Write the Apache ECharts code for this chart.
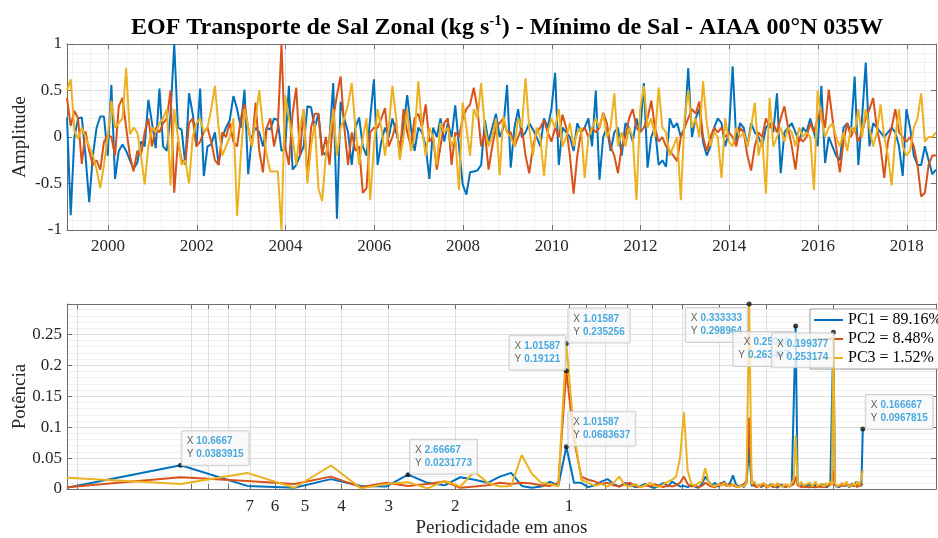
<!DOCTYPE html>
<html>
<head>
<meta charset="utf-8">
<script src="https://cdn.jsdelivr.net/npm/echarts@6/dist/echarts.min.js"></script>
<style>
html,body{margin:0;padding:0;background:#ffffff;}
#chart{width:938px;height:538px;}
</style>
</head>
<body>
<div id="chart"></div>
<script>
// ================= DATA =================
const seriesNames = ['PC1 = 89.16%', 'PC2 = 8.48%', 'PC3 = 1.52%'];
const titleMain = 'EOF Transporte de Sal Zonal (kg s';
const titleSup = '-1';
const titleRest = ') - Mínimo de Sal - AIAA 00°N 035W';
const startYear = 1999.075;
const monthsPerYear = 12;
const yearTicks = [2000, 2002, 2004, 2006, 2008, 2010, 2012, 2014, 2016, 2018];

const pc1 = [
0.21,-0.84,0.0,0.2,0.21,-0.2,-0.7,-0.2,0.1,0.22,0.22,-0.2,
0.56,-0.45,-0.15,-0.08,-0.15,-0.25,-0.34,-0.28,-0.05,-0.1,0.4,0.15,
-0.12,0.52,-0.1,-0.15,0.25,1.0,0.1,0.08,-0.3,0.47,0.25,-0.1,
0.52,-0.42,-0.1,-0.08,0.05,-0.3,0.0,0.1,0.18,0.44,0.3,0.1,
0.51,-0.4,0.0,0.1,0.05,-0.1,0.1,0.08,0.2,0.18,-0.15,-0.12,
0.55,-0.35,-0.3,-0.2,-0.1,0.33,0.32,0.1,0.25,-0.15,-0.2,0.0,
0.58,-0.88,0.38,0.2,0.05,-0.3,0.1,0.21,-0.1,-0.2,0.2,0.62,
-0.3,-0.05,0.1,0.0,0.2,0.05,-0.1,0.1,0.45,0.1,-0.15,0.1,
0.05,-0.1,-0.45,0.1,0.0,0.2,-0.05,0.15,0.0,0.34,-0.1,-0.51,
-0.62,-0.38,-0.37,-0.36,-0.3,0.18,-0.05,0.1,0.25,0.0,0.1,0.56,
-0.33,0.1,0.3,0.0,0.05,0.15,0.08,0.0,-0.1,0.2,0.1,0.3,
0.69,-0.3,0.1,0.05,0.0,-0.15,0.15,0.05,0.1,0.2,-0.1,0.5,
-0.46,0.0,0.1,-0.15,0.05,0.1,-0.2,0.15,0.1,-0.05,0.2,0.05,
0.58,-0.33,0.0,0.1,-0.3,-0.25,-0.32,0.2,0.1,0.15,0.0,0.1,
0.74,0.0,0.2,0.3,-0.05,-0.2,-0.1,0.1,0.2,0.15,-0.1,0.05,
0.76,-0.05,0.15,0.1,-0.1,0.15,0.05,0.0,-0.1,0.1,0.15,0.05,
0.47,-0.39,0.05,0.1,0.15,0.05,-0.05,0.1,0.05,0.2,0.05,-0.1,
0.55,-0.28,0.0,-0.1,-0.2,-0.25,0.1,0.15,0.05,0.65,-0.3,0.2,
0.8,-0.1,0.15,0.1,0.05,0.0,0.05,0.1,0.05,-0.1,-0.42,0.3,
0.1,-0.2,-0.3,-0.3,-0.1,-0.25,-0.4,-0.35
];
const pc2 = [
0.42,0.12,0.28,0.2,-0.29,0.06,-0.15,-0.3,-0.25,-0.35,-0.05,0.02,
0.0,-0.2,0.33,0.42,0.1,-0.2,-0.37,-0.15,-0.2,0.05,0.2,-0.1,
0.1,0.05,0.15,0.2,0.5,-0.6,-0.05,-0.25,-0.28,0.15,0.2,-0.1,
-0.05,0.05,0.1,-0.05,-0.25,-0.3,0.05,0.0,0.15,-0.05,-0.1,0.2,
0.35,0.1,-0.1,0.37,-0.15,-0.38,0.1,0.2,-0.1,0.1,1.0,-0.1,
-0.3,0.25,0.53,-0.2,0.3,-0.44,0.1,0.25,0.25,-0.2,0.0,-0.3,
0.2,0.45,0.65,0.1,-0.3,0.05,-0.15,-0.1,-0.6,-0.55,0.05,0.1,
0.1,0.2,0.31,-0.1,0.0,0.15,-0.2,0.3,0.05,-0.1,0.2,0.25,
0.1,0.35,-0.05,0.0,-0.35,-0.1,0.15,0.2,-0.3,0.05,0.0,0.2,
0.3,0.35,0.53,0.3,-0.1,0.05,-0.35,-0.1,0.1,0.15,0.2,0.05,
0.05,-0.1,0.0,0.1,-0.2,-0.39,-0.1,0.05,0.1,0.18,0.05,-0.05,
0.1,0.0,0.24,0.1,-0.2,-0.61,-0.2,0.05,0.1,0.0,0.1,0.05,
0.1,0.26,0.15,-0.1,-0.2,-0.39,-0.1,0.0,0.2,0.3,0.1,0.05,
0.1,0.2,0.39,0.1,-0.05,0.0,-0.1,-0.15,-0.2,-0.26,0.0,0.1,
0.2,0.3,0.25,0.38,0.0,-0.15,0.0,0.1,0.05,0.1,0.0,0.05,
0.0,-0.1,0.1,0.05,-0.2,-0.36,-0.1,0.05,0.0,0.2,0.1,0.15,
0.05,0.2,0.33,0.1,-0.1,-0.35,0.0,-0.05,0.0,0.15,0.05,0.2,
0.3,0.1,0.51,0.2,-0.1,-0.38,-0.05,0.15,0.0,0.1,-0.05,0.05,
0.2,0.3,0.42,0.1,-0.1,-0.44,-0.05,0.1,0.3,0.05,0.0,-0.05,
0.0,-0.1,-0.3,-0.64,-0.6,-0.3,-0.2,-0.2
];
const pc3 = [
0.5,0.62,0.07,-0.02,0.1,0.0,-0.1,-0.2,-0.35,-0.55,-0.3,0.0,
0.39,0.1,0.15,0.2,0.74,0.03,0.1,0.05,-0.2,-0.51,-0.1,0.1,
0.05,0.15,0.2,0.3,-0.52,0.3,0.0,-0.3,-0.25,-0.5,0.0,0.15,
0.2,0.05,0.1,0.3,0.55,0.1,-0.2,-0.1,0.0,0.2,-0.85,-0.2,
0.3,0.1,-0.1,0.2,0.5,0.1,-0.2,-0.37,-0.37,-0.37,-1.0,0.45,
0.2,0.0,-0.3,0.1,0.3,-0.5,-0.1,0.15,-0.55,-0.69,-0.2,0.0,
0.3,-0.2,0.1,0.2,0.35,0.58,0.1,-0.3,0.0,0.2,-0.68,-0.1,
0.3,0.1,-0.2,0.1,0.55,0.2,-0.25,0.0,0.3,-0.15,0.0,0.6,
0.1,-0.2,0.1,0.0,-0.3,0.15,0.05,0.1,-0.1,0.0,-0.57,0.37,
0.1,-0.2,0.3,0.2,0.58,0.1,-0.1,0.0,0.2,-0.41,0.22,0.05,
0.0,-0.1,0.2,0.1,0.63,0.1,-0.2,0.1,0.0,-0.42,0.05,0.2,
0.1,0.3,-0.1,0.0,0.15,-0.1,0.05,0.1,-0.44,0.0,0.1,0.2,
0.1,0.25,0.0,0.1,0.47,-0.1,0.05,-0.1,0.1,0.0,-0.68,0.3,
0.55,0.1,0.2,0.0,0.53,0.1,0.05,-0.2,-0.1,0.0,-0.68,0.2,
0.5,0.1,0.2,0.0,0.6,0.15,-0.1,0.05,0.0,-0.44,0.2,-0.05,
-0.1,0.1,0.0,0.05,-0.1,0.1,0.37,-0.2,0.0,-0.61,0.42,-0.1,
0.0,0.1,-0.05,0.1,0.05,-0.1,0.1,0.0,0.05,0.0,-0.57,0.5,
0.2,0.0,0.1,0.15,0.0,-0.1,0.05,-0.15,0.1,0.05,0.3,0.0,
0.3,0.1,-0.1,0.05,0.35,0.0,-0.2,-0.52,0.0,0.3,-0.1,-0.2,
-0.15,0.1,0.2,0.47,-0.05,0.0,0.0,0.05
];

// spectrum: power at FFT bins k = 1..128 (nfft = 256, monthly sampling)
const nfft = 256;
const spec1 = [
0.002,0.0383915,0.005,0.002,0.016,0.005,0.004,0.0231773,0.010,0.006,
0.019,0.015,0.010,0.020,0.026,0.005,0.002,0.004,0.012,0.005,
0.0683637,0.010,0.010,0.003,0.006,0.012,0.016,0.008,0.004,0.010,
0.006,0.003,0.005,0.008,0.004,0.002,0.006,0.010,0.004,0.012,
0.008,0.004,0.005,0.003,0.006,0.004,0.002,0.008,0.020,0.012,
0.006,0.010,0.004,0.008,0.012,0.006,0.010,0.022,0.008,0.004,
0.006,0.003,0.010,0.068,0.005,0.008,0.004,0.006,0.003,0.007,
0.005,0.004,0.008,0.003,0.006,0.002,0.005,0.007,0.004,0.003,
0.006,0.004,0.008,0.010,0.263497,0.012,0.006,0.004,0.007,0.003,
0.005,0.008,0.004,0.006,0.003,0.007,0.005,0.004,0.006,0.008,
0.004,0.006,0.003,0.005,0.008,0.010,0.253174,0.008,0.004,0.006,
0.003,0.007,0.010,0.005,0.004,0.006,0.008,0.003,0.005,0.009,
0.006,0.004,0.012,0.005,0.010,0.004,0.012,0.0967815
];
const spec2 = [
0.003,0.019,0.013,0.008,0.020,0.003,0.010,0.005,0.008,0.012,
0.002,0.004,0.006,0.010,0.008,0.010,0.009,0.006,0.005,0.010,
0.19121,0.080,0.020,0.015,0.012,0.008,0.010,0.006,0.004,0.008,
0.010,0.005,0.003,0.006,0.004,0.008,0.005,0.003,0.006,0.004,
0.006,0.010,0.020,0.008,0.004,0.006,0.003,0.005,0.010,0.006,
0.004,0.003,0.006,0.010,0.007,0.005,0.008,0.006,0.004,0.003,
0.006,0.008,0.012,0.115,0.008,0.005,0.003,0.006,0.004,0.007,
0.003,0.005,0.006,0.004,0.003,0.005,0.008,0.004,0.006,0.003,
0.005,0.004,0.006,0.008,0.020,0.006,0.004,0.003,0.005,0.004,
0.006,0.003,0.005,0.004,0.007,0.003,0.006,0.004,0.005,0.003,
0.006,0.004,0.005,0.007,0.004,0.008,0.030,0.006,0.004,0.005,
0.003,0.006,0.004,0.005,0.003,0.007,0.004,0.006,0.003,0.005,
0.004,0.006,0.005,0.003,0.007,0.004,0.006,0.008
];
const spec3 = [
0.018,0.008,0.026,0.002,0.038,0.001,0.008,0.011,0.001,0.013,
0.004,0.028,0.010,0.004,0.005,0.055,0.025,0.010,0.008,0.004,
0.235256,0.090,0.015,0.010,0.005,0.008,0.004,0.010,0.020,0.006,
0.004,0.008,0.003,0.006,0.010,0.005,0.003,0.008,0.012,0.015,
0.020,0.050,0.124,0.030,0.008,0.005,0.010,0.012,0.034,0.010,
0.006,0.004,0.008,0.005,0.010,0.006,0.004,0.008,0.005,0.003,
0.006,0.004,0.010,0.298964,0.008,0.012,0.006,0.004,0.008,0.010,
0.005,0.003,0.006,0.008,0.004,0.010,0.006,0.004,0.005,0.008,
0.006,0.004,0.010,0.015,0.087,0.010,0.005,0.012,0.006,0.004,
0.008,0.005,0.010,0.004,0.006,0.012,0.005,0.003,0.008,0.006,
0.004,0.010,0.006,0.008,0.012,0.006,0.245,0.010,0.005,0.008,
0.006,0.004,0.010,0.006,0.008,0.012,0.005,0.008,0.004,0.006,
0.010,0.005,0.008,0.012,0.006,0.010,0.018,0.030
];

const periodLabels = [7, 6, 5, 4, 3, 2, 1];
const periodTicks = [20, 10, 9, 8, 7, 6, 5, 4, 3, 2, 1, 0.9, 0.8, 0.7, 0.6, 0.5, 0.4, 0.3, 0.2];
const powerTicksMax = 0.299;

// data tips (which PC, period shown, power shown)
const tipSeries = [0, 0, 1, 2, 0, 2, 0, 0, 0];
const tipPeriods = ['10.6667', '2.66667', '1.01587', '1.01587', '1.01587', '0.333333', '0.25098', '0.199377', '0.166667'];
const tipPowers = ['0.0383915', '0.0231773', '0.19121', '0.235256', '0.0683637', '0.298964', '0.263497', '0.253174', '0.0967815'];

// ================= STYLE / LAYOUT =================
const colors = ['#0072BD', '#D95319', '#EDB120'];
const tipLayout = [
  {dx: 1, dy: -34, align: 'left'},
  {dx: 2, dy: -35, align: 'left'},
  {dx: -1, dy: -35, align: 'right'},
  {dx: 2, dy: -35, align: 'left'},
  {dx: 2, dy: -35, align: 'left'},
  {dx: -2, dy: 4, align: 'right'},
  {dx: -1, dy: 6, align: 'right'},
  {dx: 0, dy: 1, align: 'right'},
  {dx: 3, dy: -34, align: 'left'}
];
const serif = 'Liberation Serif, Times New Roman, serif';
const axisColor = '#6e6e6e';
const gridMajor = '#dedede';
const gridMinor = '#f0f0f0';
const tickFont = 17;

const toLogFreq = p => -Math.log10(p);
const timeMin = startYear;
const timeMax = startYear + (pc1.length - 1) / monthsPerYear;
const freqMin = Math.log10(monthsPerYear / nfft);
const freqMax = 0.972;

const topData = [pc1, pc2, pc3].map(arr => arr.map((v, i) => [startYear + i / monthsPerYear, v]));
const specData = [spec1, spec2, spec3].map(arr => arr.map((v, i) => [Math.log10((i + 1) * monthsPerYear / nfft), v]));

const yearTickVals = yearTicks;
const periodLabelVals = periodLabels.map(toLogFreq);
const periodTickVals = periodTicks.map(toLogFreq);

function baseAxisLine() { return {show: true, onZero: false, lineStyle: {color: axisColor, width: 1}}; }

const xAxes = [
  {
    type: 'value', gridIndex: 0, position: 'bottom', min: timeMin, max: timeMax, splitNumber: 10,
    axisLine: baseAxisLine(),
    axisTick: {show: true, inside: true, length: 5, customValues: yearTickVals, lineStyle: {color: axisColor}},
    axisLabel: {show: true, customValues: yearTickVals, margin: 8, fontFamily: serif, fontSize: tickFont, color: '#262626', formatter: v => String(Math.round(v))},
    splitLine: {show: true, lineStyle: {color: gridMajor, width: 1}},
    minorTick: {show: false, splitNumber: 5},
    minorSplitLine: {show: true, lineStyle: {color: gridMinor, width: 1}}
  },
  {
    type: 'value', gridIndex: 1, position: 'bottom', min: freqMin, max: freqMax,
    name: 'Periodicidade em anos', nameLocation: 'middle', nameGap: 30, nameMoveOverlap: false,
    nameTextStyle: {fontFamily: serif, fontSize: 19, color: '#262626'},
    axisLine: baseAxisLine(),
    axisTick: {show: true, inside: true, length: 5, customValues: periodTickVals, lineStyle: {color: axisColor}},
    axisLabel: {show: true, customValues: periodLabelVals, margin: 9, fontFamily: serif, fontSize: tickFont, color: '#262626', formatter: v => String(Math.round(Math.pow(10, -v)))},
    splitLine: {show: true, lineStyle: {color: gridMajor, width: 1}}
  },
  {
    type: 'value', gridIndex: 0, position: 'top', min: timeMin, max: timeMax,
    axisLine: baseAxisLine(),
    axisTick: {show: true, inside: true, length: 5, customValues: yearTickVals, lineStyle: {color: axisColor}},
    axisLabel: {show: false}, splitLine: {show: false}
  },
  {
    type: 'value', gridIndex: 1, position: 'top', min: freqMin, max: freqMax,
    axisLine: baseAxisLine(),
    axisTick: {show: true, inside: true, length: 5, customValues: periodTickVals, lineStyle: {color: axisColor}},
    axisLabel: {show: false}, splitLine: {show: false}
  }
];

const yAxes = [
  {
    type: 'value', gridIndex: 0, position: 'left', min: -1, max: 1, interval: 0.5,
    name: 'Amplitude', nameLocation: 'middle', nameGap: 37, nameRotate: 90, nameMoveOverlap: false,
    nameTextStyle: {fontFamily: serif, fontSize: 19, color: '#262626'},
    axisLine: baseAxisLine(),
    axisTick: {show: true, inside: true, length: 5, lineStyle: {color: axisColor}},
    axisLabel: {margin: 5, fontFamily: serif, fontSize: tickFont, color: '#262626'},
    splitLine: {show: true, lineStyle: {color: gridMajor, width: 1}},
    minorTick: {show: false, splitNumber: 5},
    minorSplitLine: {show: true, lineStyle: {color: gridMinor, width: 1}}
  },
  {
    type: 'value', gridIndex: 1, position: 'left', min: 0, max: powerTicksMax, interval: 0.05,
    name: 'Potência', nameLocation: 'middle', nameGap: 37, nameRotate: 90, nameMoveOverlap: false,
    nameTextStyle: {fontFamily: serif, fontSize: 19, color: '#262626'},
    axisLine: baseAxisLine(),
    axisTick: {show: true, inside: true, length: 5, lineStyle: {color: axisColor}},
    axisLabel: {margin: 5, fontFamily: serif, fontSize: tickFont, color: '#262626', showMaxLabel: false},
    splitLine: {show: true, lineStyle: {color: gridMajor, width: 1}},
    minorTick: {show: false, splitNumber: 5},
    minorSplitLine: {show: true, lineStyle: {color: gridMinor, width: 1}}
  },
  {
    type: 'value', gridIndex: 0, position: 'right', min: -1, max: 1, interval: 0.5,
    axisLine: baseAxisLine(),
    axisTick: {show: true, inside: true, length: 5, lineStyle: {color: axisColor}},
    axisLabel: {show: false}, splitLine: {show: false}
  },
  {
    type: 'value', gridIndex: 1, position: 'right', min: 0, max: powerTicksMax, interval: 0.05,
    axisLine: baseAxisLine(),
    axisTick: {show: true, inside: true, length: 5, lineStyle: {color: axisColor}},
    axisLabel: {show: false}, splitLine: {show: false}
  }
];

const series = [];
for (let s = 0; s < 3; s++) {
  series.push({
    name: seriesNames[s], type: 'line', xAxisIndex: 0, yAxisIndex: 0,
    data: topData[s], showSymbol: false, symbol: 'none',
    lineStyle: {color: colors[s], width: 2}, itemStyle: {color: colors[s]},
    emphasis: {disabled: true}, z: 2 + s
  });
}
for (let s = 0; s < 3; s++) {
  series.push({
    name: seriesNames[s], type: 'line', xAxisIndex: 1, yAxisIndex: 1,
    data: specData[s], showSymbol: false, symbol: 'none',
    lineStyle: {color: colors[s], width: 2}, itemStyle: {color: colors[s]},
    emphasis: {disabled: true}, z: 2 + s
  });
}

const tipData = tipPeriods.map((p, i) => {
  const L = tipLayout[i];
  return {
    value: [toLogFreq(parseFloat(p)), parseFloat(tipPowers[i])],
    label: {
      show: true,
      position: [2.5 + L.dx, 2.5 + L.dy],
      align: L.align,
      formatter: '{a|X} {b|' + p + '}\n{a|Y} {b|' + tipPowers[i] + '}'
    }
  };
});
series.push({
  type: 'scatter', xAxisIndex: 1, yAxisIndex: 1, z: 10,
  symbol: 'circle', symbolSize: 5,
  itemStyle: {color: '#111111'},
  emphasis: {disabled: true},
  data: tipData,
  label: {
    show: true,
    backgroundColor: 'rgba(248,248,248,0.96)',
    borderColor: '#c4c4c4', borderWidth: 1, borderRadius: 1,
    padding: [4, 5, 4, 5],
    rich: {
      a: {fontFamily: 'Liberation Sans, Arial, sans-serif', fontSize: 10, color: '#3a3a3a', lineHeight: 13},
      b: {fontFamily: 'Liberation Sans, Arial, sans-serif', fontSize: 10, fontWeight: 'bold', color: '#1d95d8', lineHeight: 13}
    }
  }
});

const option = {
  animation: false,
  backgroundColor: '#ffffff',
  textStyle: {fontFamily: serif},
  title: {
    text: '{t|' + titleMain + '}{s|' + titleSup + '}{t|' + titleRest + '}',
    left: 131, top: 14, padding: 0,
    textStyle: {
      rich: {
        t: {fontFamily: serif, fontWeight: 'bold', fontSize: 24, color: '#000000', lineHeight: 26},
        s: {fontFamily: serif, fontWeight: 'bold', fontSize: 15, color: '#000000', padding: [0, 0, 12, 0]}
      }
    }
  },
  legend: {
    data: seriesNames.map(n => ({name: n, icon: 'rect'})),
    orient: 'vertical', left: 810, top: 309,
    backgroundColor: '#ffffff', borderColor: '#9a9a9a', borderWidth: 1, borderRadius: 0,
    padding: [3, 4, 3, 4], itemGap: 3, itemWidth: 29, itemHeight: 2,
    selectedMode: false,
    textStyle: {fontFamily: serif, fontSize: 16, color: '#000000', lineHeight: 16}
  },
  grid: [
    {left: 67, top: 44, width: 869, height: 186, outerBoundsMode: 'none', containLabel: false},
    {left: 67, top: 304, width: 869, height: 185, outerBoundsMode: 'none', containLabel: false}
  ],
  xAxis: xAxes,
  yAxis: yAxes,
  series: series
};

const chart = echarts.init(document.getElementById('chart'), null, {renderer: 'canvas', width: 938, height: 538});
chart.setOption(option);
</script>
</body>
</html>
